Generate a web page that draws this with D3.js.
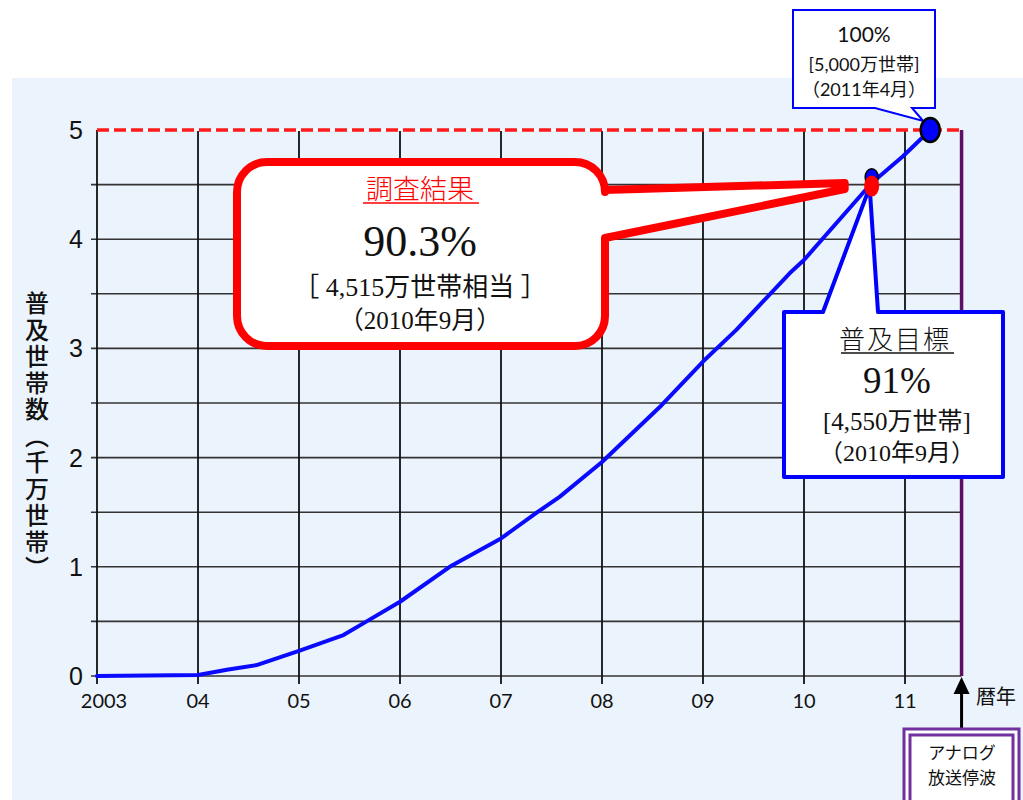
<!DOCTYPE html>
<html lang="ja">
<head>
<meta charset="utf-8">
<script src="https://cdn.jsdelivr.net/npm/d3@7"></script>
<style>
  html, body { margin: 0; padding: 0; background: #fff; }
  svg { display: block; }
</style>
</head>
<body>
<script>
// 地上デジタル放送受信機の普及世帯数の推移（千万世帯）
const years      = [2003, 2004, 2004.3, 2004.58, 2005, 2005.44, 2005.67, 2006, 2006.51, 2007, 2007.36, 2007.58, 2008, 2008.59, 2009, 2009.33, 2009.86, 2010, 2010.67, 2010.98, 2011.25];
const households = [0,    0.01, 0.06,   0.10,    0.23, 0.375,   0.50,    0.68, 1.01,    1.26, 1.50,    1.64,    1.96, 2.48,    2.88, 3.17,    3.69,    3.81, 4.515,   4.76,    5.0];

const xTickYears  = [2003, 2004, 2005, 2006, 2007, 2008, 2009, 2010, 2011];
const xTickLabels = ["2003", "04", "05", "06", "07", "08", "09", "10", "11"];
const yTicks      = [0, 1, 2, 3, 4, 5];
const yGrid       = [0.5, 1, 1.5, 2, 2.5, 3, 3.5, 4, 4.5];

const surveyPoint = { year: 2010.67, value: 4.515 };  // 調査結果 90.3%
const targetPoint = { year: 2010.67, value: 4.55 };   // 普及目標 91%
const fullPoint   = { year: 2011.25, value: 5.0 };    // 100%
const shutdownYear = 2011.56;                         // アナログ放送停波

const W = 1023, H = 800;
const svg = d3.select("body").append("svg").attr("width", W).attr("height", H);

const x = d3.scaleLinear().domain([2003, 2011]).range([97, 905]);
const y = d3.scaleLinear().domain([0, 5]).range([676, 130]);
const xEnd = x(shutdownYear);

// 背景パネル
svg.append("rect").attr("x", 12).attr("y", 78).attr("width", W - 12).attr("height", H - 78)
  .attr("fill", "#ebf3fc");

// 横グリッド
svg.append("g").selectAll("line").data(yGrid).join("line")
  .attr("x1", x(2003) - 6).attr("x2", xEnd)
  .attr("y1", d => y(d)).attr("y2", d => y(d))
  .attr("stroke", "#333").attr("stroke-width", 1.6);

// 基線
svg.append("line").attr("x1", x(2003) - 6).attr("x2", xEnd).attr("y1", y(0)).attr("y2", y(0))
  .attr("stroke", "#333").attr("stroke-width", 1.6);

// 縦グリッド（年）
svg.append("g").selectAll("line").data(xTickYears).join("line")
  .attr("x1", d => x(d)).attr("x2", d => x(d))
  .attr("y1", y(5)).attr("y2", y(0) + 8)
  .attr("stroke", "#111").attr("stroke-width", 1.8);

// 100% ライン
svg.append("line").attr("x1", x(2003)).attr("x2", xEnd).attr("y1", y(5)).attr("y2", y(5))
  .attr("stroke", "#fff").attr("stroke-width", 2);
svg.append("line").attr("x1", x(2003)).attr("x2", xEnd).attr("y1", y(5)).attr("y2", y(5))
  .attr("stroke", "#ff1a1a").attr("stroke-width", 3.5).attr("stroke-dasharray", "12,5");

// 停波ライン
svg.append("line").attr("x1", xEnd).attr("x2", xEnd).attr("y1", y(5)).attr("y2", y(0))
  .attr("stroke", "#5e1066").attr("stroke-width", 3.5);

// 目盛ラベル
svg.append("g").selectAll("text").data(yTicks).join("text")
  .attr("x", 83).attr("y", d => y(d)).attr("dy", "0.36em")
  .attr("text-anchor", "end")
  .attr("font-family", "'Liberation Sans', Arial, sans-serif").attr("font-size", 25)
  .attr("fill", "#111").text(d => d);

svg.append("g").selectAll("text").data(xTickYears).join("text")
  .attr("x", (d, i) => x(d) + (i === 0 ? 7 : 0)).attr("y", 708)
  .attr("text-anchor", "middle")
  .attr("font-family", "Lato, 'Open Sans', sans-serif").attr("font-size", 20)
  .attr("fill", "#111").text((d, i) => xTickLabels[i]);

// 軸タイトル
svg.append("text")
  .attr("x", 37).attr("y", 437)
  .attr("text-anchor", "middle")
  .style("writing-mode", "vertical-rl")
  .attr("letter-spacing", 2.5)
  .attr("font-family", "'Noto Sans CJK JP', sans-serif").attr("font-size", 24).attr("font-weight", 500)
  .attr("fill", "#111").text("普及世帯数（千万世帯）");

svg.append("text").attr("x", 976).attr("y", 704)
  .attr("font-family", "'Noto Sans CJK JP', sans-serif").attr("font-size", 20)
  .attr("fill", "#111").text("暦年");

// 普及曲線
const line = d3.line().x((d, i) => x(years[i])).y(d => y(d)).curve(d3.curveLinear);
svg.append("path").datum(households)
  .attr("d", line)
  .attr("fill", "none").attr("stroke", "#0a0aff").attr("stroke-width", 4)
  .attr("stroke-linejoin", "round").attr("stroke-linecap", "round");

// 停波矢印
svg.append("line").attr("x1", xEnd).attr("x2", xEnd).attr("y1", 728).attr("y2", y(0) + 16)
  .attr("stroke", "#000").attr("stroke-width", 3);
svg.append("path")
  .attr("d", `M${xEnd - 8},${y(0) + 18} L${xEnd},${y(0) + 1} L${xEnd + 8},${y(0) + 18} Z`)
  .attr("fill", "#000");

// アナログ放送停波ボックス
svg.append("rect").attr("x", 904).attr("y", 729).attr("width", 115).attr("height", 90)
  .attr("fill", "#fff").attr("stroke", "#7030a0").attr("stroke-width", 3);
svg.append("rect").attr("x", 910).attr("y", 735).attr("width", 103).attr("height", 80)
  .attr("fill", "none").attr("stroke", "#7030a0").attr("stroke-width", 3);
svg.append("text").attr("x", 962).attr("y", 759).attr("text-anchor", "middle")
  .attr("font-family", "'Noto Sans CJK JP', sans-serif").attr("font-size", 17).attr("fill", "#111")
  .text("アナログ");
svg.append("text").attr("x", 962).attr("y", 784).attr("text-anchor", "middle")
  .attr("font-family", "'Noto Sans CJK JP', sans-serif").attr("font-size", 17).attr("fill", "#111")
  .text("放送停波");

// 調査結果の吹き出し
{
  const x0 = 237, x1 = 605, y0 = 162, y1 = 346, r = 30;
  const tipX = x(surveyPoint.year) - 27, tipY = y(surveyPoint.value);
  const p = [
    `M${x0 + r},${y0}`, `H${x1 - r}`, `A${r},${r} 0 0 1 ${x1},${y0 + r}`,
    `V190`, `L${tipX},${tipY} L${tipX},${tipY + 6}`, `L${x1},238`,
    `V${y1 - r}`, `A${r},${r} 0 0 1 ${x1 - r},${y1}`,
    `H${x0 + r}`, `A${r},${r} 0 0 1 ${x0},${y1 - r}`,
    `V${y0 + r}`, `A${r},${r} 0 0 1 ${x0 + r},${y0}`, "Z"
  ].join(" ");
  svg.append("path").attr("d", p).attr("fill", "#fff").attr("stroke", "#ff0000")
    .attr("stroke-width", 8).attr("stroke-linejoin", "round");

  const cx = 420;
  svg.append("text").attr("x", cx).attr("y", 199).attr("text-anchor", "middle")
    .attr("font-family", "'Noto Sans CJK JP', sans-serif").attr("font-size", 27)
    .attr("font-weight", 300).attr("fill", "#ff0000").text("調査結果");
  svg.append("line").attr("x1", 363).attr("x2", 479).attr("y1", 203).attr("y2", 203)
    .attr("stroke", "#ff0000").attr("stroke-width", 1.5);
  svg.append("text").attr("x", cx).attr("y", 256).attr("text-anchor", "middle")
    .attr("font-family", "'Liberation Serif', 'DejaVu Serif', serif").attr("font-size", 44)
    .attr("fill", "#111").text("90.3%");
  svg.append("text").attr("x", cx).attr("y", 296).attr("text-anchor", "middle")
    .attr("font-family", "'Liberation Serif', 'Noto Sans CJK JP', serif").attr("font-size", 26)
    .attr("fill", "#111").text("［ 4,515万世帯相当 ］");
  svg.append("text").attr("x", cx).attr("y", 329).attr("text-anchor", "middle")
    .attr("font-family", "'Liberation Serif', 'Noto Sans CJK JP', serif").attr("font-size", 25)
    .attr("fill", "#111").text("（2010年9月）");
}

// 普及目標の吹き出し
{
  const x0 = 784, x1 = 1003, y0 = 312, y1 = 477;
  const tipX = x(targetPoint.year), tipY = y(targetPoint.value) + 8;
  const p = `M${x0},${y0} H823 L${tipX - 2},${tipY} L878,${y0} H${x1} V${y1} H${x0} Z`;
  svg.append("path").attr("d", p).attr("fill", "#fff").attr("stroke", "#0000ff")
    .attr("stroke-width", 4).attr("stroke-linejoin", "round");

  const cx = 895;
  svg.append("text").attr("x", cx).attr("y", 349).attr("text-anchor", "middle")
    .attr("font-family", "'Noto Sans CJK JP', sans-serif").attr("font-size", 26)
    .attr("font-weight", 300).attr("letter-spacing", 2).attr("fill", "#111").text("普及目標");
  svg.append("line").attr("x1", 841).attr("x2", 954).attr("y1", 353).attr("y2", 353)
    .attr("stroke", "#111").attr("stroke-width", 1.5);
  svg.append("text").attr("x", cx + 2).attr("y", 393).attr("text-anchor", "middle")
    .attr("font-family", "'Liberation Serif', 'DejaVu Serif', serif").attr("font-size", 37)
    .attr("fill", "#111").text("91%");
  svg.append("text").attr("x", cx + 2).attr("y", 430).attr("text-anchor", "middle")
    .attr("font-family", "'Liberation Serif', 'Noto Sans CJK JP', serif").attr("font-size", 25)
    .attr("fill", "#111").text("[4,550万世帯]");
  svg.append("text").attr("x", cx + 2).attr("y", 461).attr("text-anchor", "middle")
    .attr("font-family", "'Liberation Serif', 'Noto Sans CJK JP', serif").attr("font-size", 24)
    .attr("fill", "#111").text("（2010年9月）");
}

// 100% の吹き出し
{
  const x0 = 793, x1 = 935, y0 = 10, y1 = 108;
  const tipX = x(fullPoint.year) - 7, tipY = y(fullPoint.value) - 9;
  const p = `M${x0},${y0} H${x1} V${y1} H912 L${tipX},${tipY} L875,${y1} H${x0} Z`;
  svg.append("path").attr("d", p).attr("fill", "#fff").attr("stroke", "#0000ff")
    .attr("stroke-width", 2);
  const cx = 864;
  svg.append("text").attr("x", cx).attr("y", 42).attr("text-anchor", "middle")
    .attr("font-family", "Lato, 'Noto Sans CJK JP', sans-serif").attr("font-size", 21)
    .attr("fill", "#111").text("100%");
  svg.append("text").attr("x", cx).attr("y", 71).attr("text-anchor", "middle")
    .attr("font-family", "Lato, 'Noto Sans CJK JP', sans-serif").attr("font-size", 18)
    .attr("fill", "#111").text("[5,000万世帯]");
  svg.append("text").attr("x", cx).attr("y", 96).attr("text-anchor", "middle")
    .attr("font-family", "Lato, 'Noto Sans CJK JP', sans-serif").attr("font-size", 18)
    .attr("fill", "#111").text("（2011年4月）");
}

// マーカー
svg.append("ellipse").attr("cx", x(targetPoint.year)).attr("cy", y(targetPoint.value) - 2)
  .attr("rx", 6.5).attr("ry", 8.5).attr("fill", "#0000ff").attr("stroke", "#000").attr("stroke-width", 1.5);
svg.append("ellipse").attr("cx", x(surveyPoint.year)).attr("cy", y(surveyPoint.value) + 3)
  .attr("rx", 7.5).attr("ry", 10.5).attr("fill", "#ff0000");
svg.append("ellipse").attr("cx", x(fullPoint.year)).attr("cy", y(fullPoint.value))
  .attr("rx", 9.5).attr("ry", 12).attr("fill", "#0000ff").attr("stroke", "#000").attr("stroke-width", 2.5);
</script>
</body>
</html>
